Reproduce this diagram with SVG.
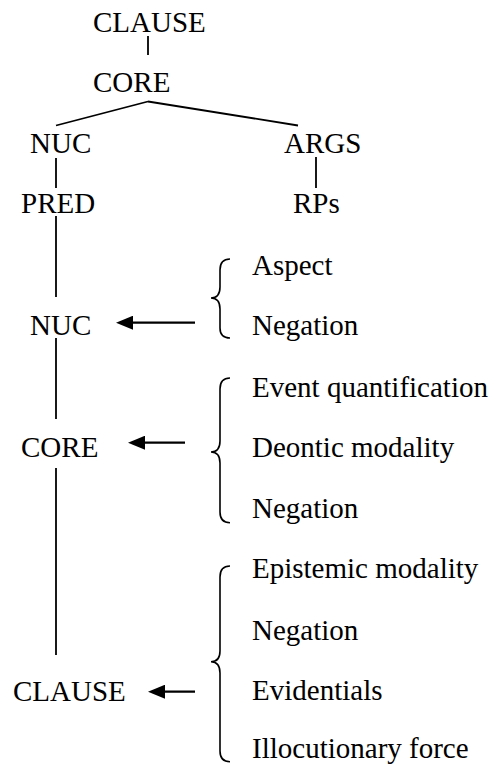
<svg xmlns="http://www.w3.org/2000/svg" width="495" height="767" viewBox="0 0 495 767">
  <style>
    text { font-family: "Liberation Serif", serif; font-size: 29px; fill: #000; }
    .tree { stroke: #000; stroke-width: 1.8; fill: none; }
    .brace { stroke: #000; stroke-width: 1.6; fill: none; }
    .arrow { stroke: #000; stroke-width: 2.2; fill: none; marker-end: url(#head); }
  </style>
  <defs>
    <marker id="head" viewBox="0 0 17 14" markerWidth="17" markerHeight="14" markerUnits="userSpaceOnUse" refX="13" refY="7" orient="auto">
      <path d="M0,0 L17,7 L0,14 Z" fill="#000"/>
    </marker>
  </defs>

  <!-- tree connectors and brace pointers -->
  <g id="connectors">
    <line class="tree" x1="148" y1="36" x2="148" y2="55"/>
    <line class="tree" x1="148" y1="101.5" x2="56" y2="125.5"/>
    <line class="tree" x1="148" y1="101.5" x2="298" y2="125.5"/>
    <line class="tree" x1="56" y1="158" x2="56" y2="188"/>
    <line class="tree" x1="316" y1="157" x2="316" y2="188"/>
    <line class="tree" x1="56" y1="216" x2="56" y2="297"/>
    <line class="tree" x1="56" y1="338" x2="56" y2="419"/>
    <line class="tree" x1="56" y1="468" x2="56" y2="655"/>

    <line class="arrow" x1="195" y1="322.7" x2="120" y2="322.7"/>
    <line class="arrow" x1="185" y1="442.7" x2="132" y2="442.7"/>
    <line class="arrow" x1="195" y1="691.7" x2="152" y2="691.7"/>

    <path class="brace" d="M230,259 Q220,259 220,270 L220,287 Q220,298 211,298 Q220,298 220,309 L220,328 Q220,338 230,338"/>
    <path class="brace" d="M230,378 Q220,378 220,389 L220,441 Q220,452 211,452 Q220,452 220,463 L220,512 Q220,522.7 230,522.7"/>
    <path class="brace" d="M230,566 Q220,566 220,577 L220,651 Q220,661.7 211,661.7 Q220,661.7 220,673 L220,751 Q220,761.7 230,761.7"/>
  </g>

  <!-- upper tree -->
  <g id="clause-top"><text x="93" y="31.5" font-family="DejaVu Serif">CLAUSE</text></g>
  <g id="core-top"><text x="93" y="91.7">CORE</text></g>
  <g id="nuc-top"><text x="30" y="153">NUC</text></g>
  <g id="args"><text x="284" y="153">ARGS</text></g>
  <g id="pred"><text x="21" y="213">PRED</text></g>
  <g id="rps"><text x="293" y="213">RPs</text></g>

  <!-- layered spine -->
  <g id="nuc"><text x="30" y="335">NUC</text></g>
  <g id="core"><text x="21" y="456.7">CORE</text></g>
  <g id="clause"><text x="13" y="700.7">CLAUSE</text></g>

  <!-- operators -->
  <g id="nuc-operators">
    <text x="252" y="275">Aspect</text>
    <text x="252" y="335">Negation</text>
  </g>
  <g id="core-operators">
    <text x="252" y="396.7">Event quantification</text>
    <text x="252" y="457">Deontic modality</text>
    <text x="252" y="518">Negation</text>
  </g>
  <g id="clause-operators">
    <text x="252" y="578">Epistemic modality</text>
    <text x="252" y="640">Negation</text>
    <text x="252" y="700">Evidentials</text>
    <text x="252" y="758">Illocutionary force</text>
  </g>
</svg>
